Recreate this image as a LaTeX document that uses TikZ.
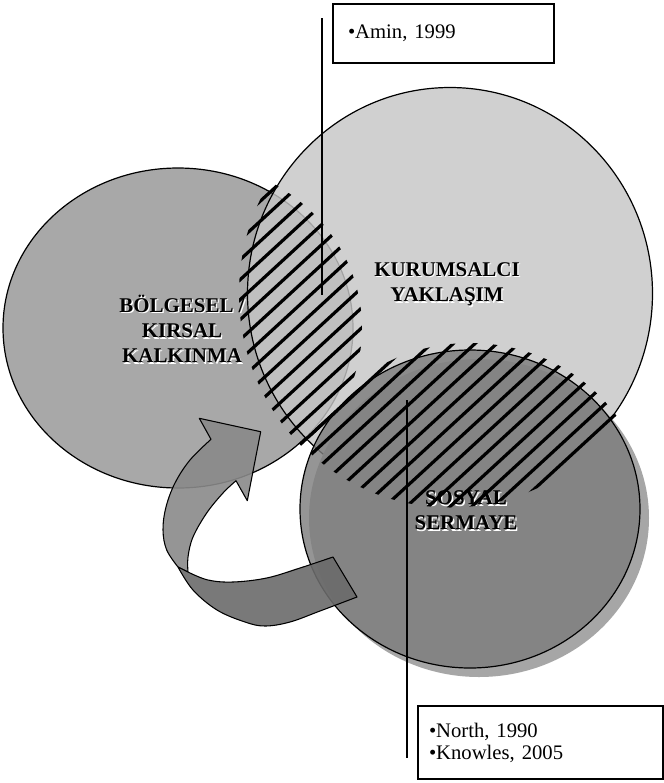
\documentclass[tikz,border=0pt]{standalone}
\usepackage{fontspec}
\setmainfont{Liberation Serif}
\definecolor{cLeft}{gray}{0.66}
\definecolor{cBig}{gray}{0.776}
\definecolor{cSoc}{gray}{0.49}
\definecolor{cShadow}{gray}{0.65}
\definecolor{cArrUp}{gray}{0.54}
\definecolor{cArrLo}{gray}{0.42}
\begin{document}
\begin{tikzpicture}[x=0.75pt,y=-0.75pt,
  circ/.style={draw=black, line width=0.9pt},
  hatchline/.style={line width=2.4pt, line cap=round},
  lbl/.style={font=\fontsize{15.7}{18.9}\selectfont\bfseries, align=center, inner sep=0pt},
  refbox/.style={draw=black, line width=1.5pt, align=left, anchor=north west, font=\fontsize{15.5}{16.5}\selectfont},
  conn/.style={line width=1.1pt},
  arrowpart/.style={draw=black, line width=0.8pt, fill opacity=0.9, line join=round}]
\useasboundingbox (0,0) rectangle (664,783);
\fill[white] (0,0) rectangle (664,783);

% circles
\path[circ, fill=cLeft] (178,328) ellipse [x radius=175, y radius=160];
\path[circ, fill=cBig, fill opacity=0.82] (450,293.5) ellipse [x radius=202.5, y radius=206];
\fill[cShadow] (479,518) ellipse [x radius=170, y radius=159];
\path[circ, fill=cSoc, fill opacity=0.81] (470,509) ellipse [x radius=170, y radius=159];

% labels with light shadow
\node[lbl, text=white] (bolS) at (183.3,330.3) {BÖLGESEL /\\KIRSAL\\KALKINMA};
\node[lbl] (bol) at (182,329) {BÖLGESEL /\\KIRSAL\\KALKINMA};
\node[lbl, text=white] (kurS) at (448.3,285.8) {KURUMSALCI\\YAKLAŞIM};
\node[lbl] (kur) at (447,284.5) {KURUMSALCI\\YAKLAŞIM};
\node[lbl, text=white] (sosS) at (467.3,511.8) {SOSYAL\\SERMAYE};
\node[lbl] (sos) at (466,510.5) {SOSYAL\\SERMAYE};

% hatching: left lens
\begin{scope}
  \clip (178,328) ellipse [x radius=184, y radius=169];
  \clip (450,293.5) ellipse [x radius=211, y radius=215];
  \foreach \k in {-3,...,16} {
    \pgfmathsetmacro{\c}{460.6+20*\k}
    \draw[hatchline] (150,{\c-138}) -- (700,{\c-644});
  }
\end{scope}
% hatching: lower lens
\begin{scope}
  \clip (450,293.5) ellipse [x radius=210, y radius=214];
  \clip (470,509) ellipse [x radius=177, y radius=166];
  \foreach \k in {12,...,32} {
    \pgfmathsetmacro{\c}{460.6+20*\k}
    \draw[hatchline] (150,{\c-138}) -- (700,{\c-644});
  }
\end{scope}

% connectors and reference boxes
\coordinate (aminA) at (322,18);
\coordinate (aminB) at (322,295);
\draw[conn] (aminA) -- (aminB);
\coordinate (northA) at (407,400);
\coordinate (northB) at (407,758);
\draw[conn] (northA) -- (northB);

\node[refbox, minimum width=165.75pt, minimum height=44.25pt, text width=143.25pt, inner xsep=11.25pt] (amin) at (332,3) {•Amin, 1999};
\node[refbox, minimum width=183.75pt, minimum height=54.75pt, text width=167.25pt, inner xsep=8.25pt] (north) at (417,705) {•North, 1990\\•Knowles, 2005};

% curved arrow: upper (lighter) part with head
\path[arrowpart, fill=cArrUp]
  plot[smooth, tension=0.6] coordinates {(188,572) (188,557) (193,537) (206.7,513) (223,493) (236,480.7)}
  -- (247.3,500.7) -- (260.7,431.7) -- (199.3,418.3) -- (211,439.3)
  -- plot[smooth, tension=0.6] coordinates {(211,439.3) (190,460) (175,483) (166,507) (163,530) (166.7,550) (178,567)}
  -- cycle;
% lower (darker) band with tail
\path[arrowpart, fill=cArrLo]
  plot[smooth, tension=0.6] coordinates {(178,567) (193,590) (217,610) (245,622) (265,626) (290,622) (320,611) (357,597)}
  -- (333,557)
  -- plot[smooth, tension=0.6] coordinates {(333,557) (300,568) (266.7,578) (233,582) (208,580) (188,572)}
  -- cycle;
\end{tikzpicture}
\end{document}
